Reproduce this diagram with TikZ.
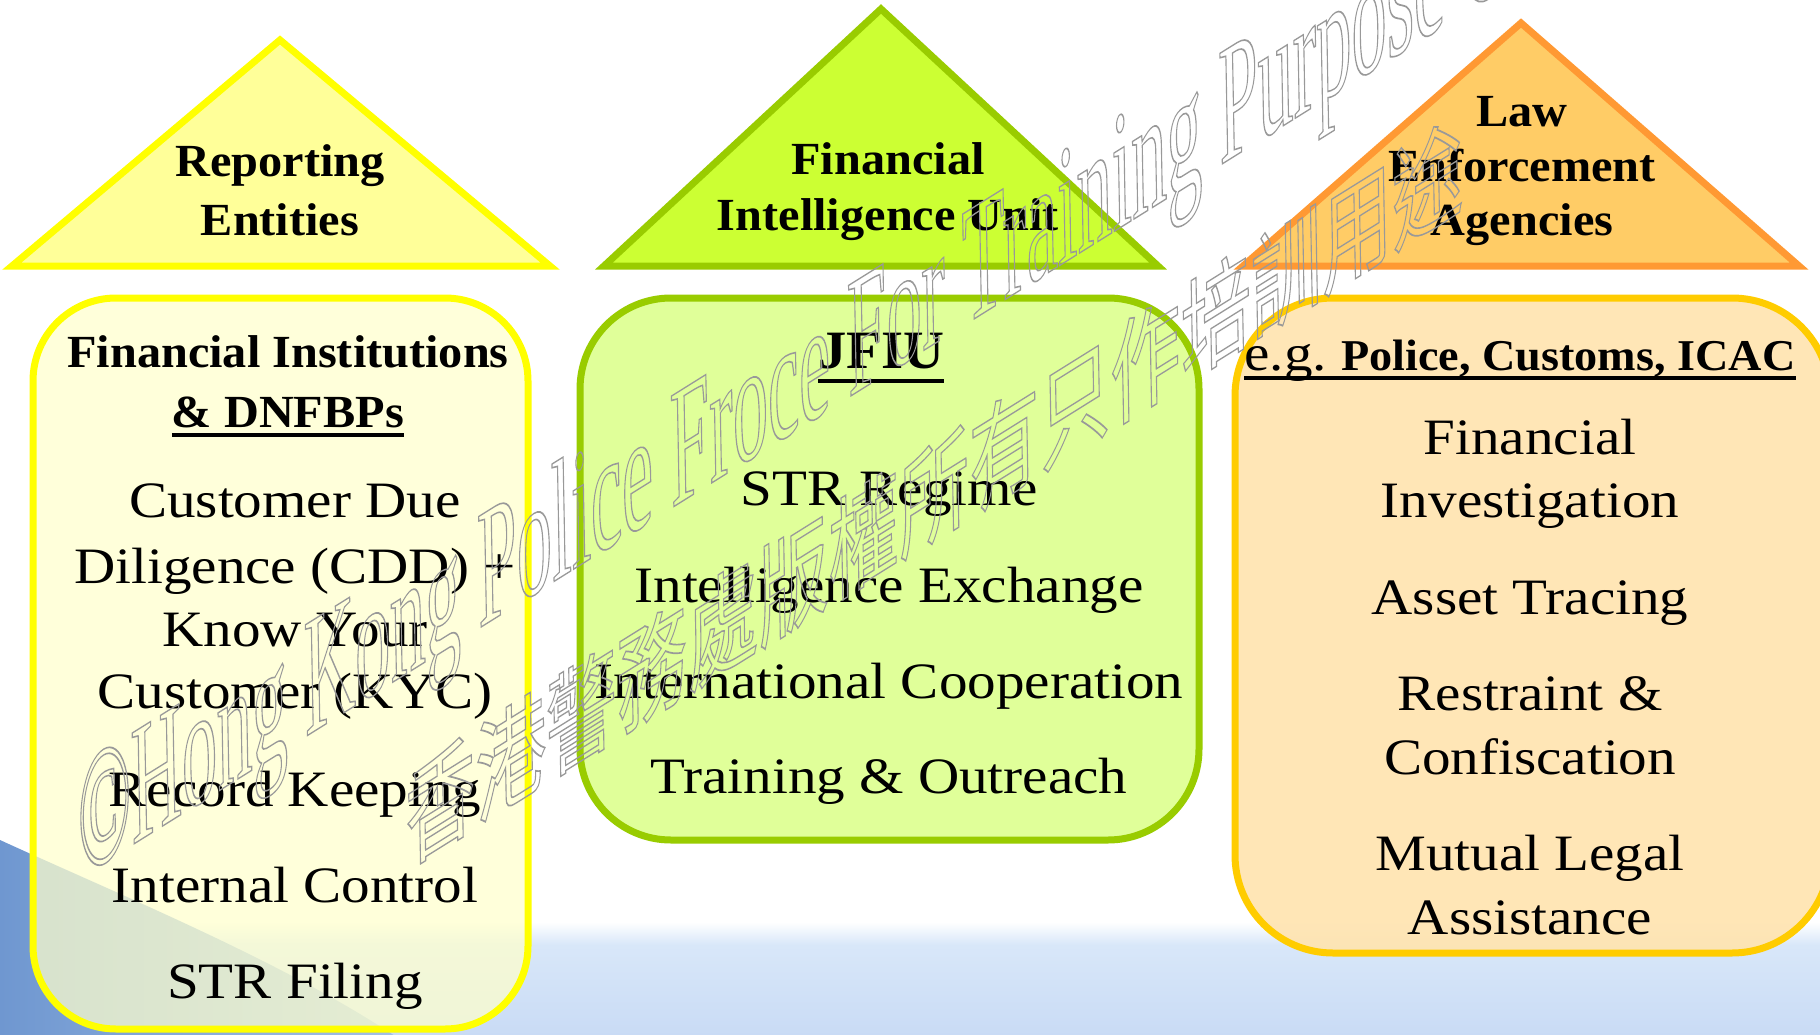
\documentclass[tikz,border=0pt]{standalone}
\usepackage{fontspec}
\setmainfont{Liberation Serif}[FakeStretch=1.12, BoldFeatures={FakeStretch=1.05}]
\newfontfamily\wmfont{Liberation Serif}[FakeStretch=0.57]
\newfontfamily\wmcjk{Noto Sans CJK TC}[FakeStretch=0.875]
\newcommand\WmOutlineOn{\special{pdf:literal direct 1 Tr 1.3 w 0.6 0.6 0.6 RG}}
\newcommand\WmOutlineOff{\special{pdf:literal direct 0 Tr}}
\definecolor{triYfill}{HTML}{FFFF99}
\definecolor{triYline}{HTML}{FFFF00}
\definecolor{triGfill}{HTML}{CCFF33}
\definecolor{triGline}{HTML}{99CC00}
\definecolor{triOfill}{HTML}{FFCC66}
\definecolor{triOline}{HTML}{FF9933}
\definecolor{boxYfill}{HTML}{FFFFCC}
\definecolor{boxGfill}{HTML}{E0FF99}
\definecolor{boxOfill}{HTML}{FFE4B0}
\definecolor{boxOline}{HTML}{FFCC00}
\definecolor{bandA}{HTML}{D8E7F9}
\definecolor{bandB}{HTML}{C9DBF5}
\definecolor{wedgeA}{HTML}{6F97D0}
\definecolor{wedgeB}{HTML}{A2BFE6}
\definecolor{wmgray}{HTML}{9A9A9A}
\tikzset{
  tri/.style={line width=7pt, line join=miter},
  rbox/.style={line width=7pt},
  hd/.style={font=\bfseries\fontsize{46}{55}\selectfont, inner sep=0pt, anchor=base},
  tx/.style={font=\fontsize{51}{61}\selectfont, inner sep=0pt, anchor=base},
  ul/.style={line width=3.5pt, black},
  wm/.style={inner sep=0pt, text=wmgray, anchor=west, rotate=32, xslant=0.6}
}
\begin{document}
\begin{tikzpicture}[x=1pt, y=-1pt]
\useasboundingbox (0,0) rectangle (1820,1035);
\clip (0,0) rectangle (1820,1035);
\fill[white] (0,0) rectangle (1820,1035);
% background band
\shade[top color=white, bottom color=bandA] (0,922) rectangle (1820,945);
\shade[top color=bandA, bottom color=bandB] (0,945) rectangle (1820,1036);
% bottom-left wedge
\shade[left color=wedgeA, right color=wedgeB]
  (0,840) .. controls (120,895) and (280,960) .. (395,1036) -- (0,1036) -- cycle;

% triangles
\draw[tri, draw=triYline, fill=triYfill] (280,40) -- (550,266) -- (12,266) -- cycle;
\draw[tri, draw=triGline, fill=triGfill] (881,9) -- (1158,266) -- (604,266) -- cycle;
\draw[tri, draw=triOline, fill=triOfill] (1521,23) -- (1799,266) -- (1243,266) -- cycle;

% rounded boxes
\draw[rbox, draw=triYline, fill=boxYfill, fill opacity=0.72, rounded corners=83pt] (33,298) rectangle (528,1029);
\draw[rbox, draw=triGline, fill=boxGfill, rounded corners=91pt] (580,298) rectangle (1199,840);
\draw[rbox, draw=boxOline, fill=boxOfill, fill opacity=0.92, rounded corners=98pt] (1235,298) rectangle (1830,953);

% triangle labels
\node[hd] (re1) at (280,177) {Reporting};
\node[hd] (re2) at (280,235) {Entities};
\node[hd] (fiu1) at (888,175) {Financial};
\node[hd] (fiu2) at (888,230) {Intelligence Unit};
\node[hd] (lea1) at (1522,127) {Law};
\node[hd] (lea2) at (1522,182) {Enforcement};
\node[hd] (lea3) at (1522,235) {Agencies};

% box 1
\node[hd] (b1h1) at (288,367) {Financial Institutions};
\node[hd] (b1h2) at (288,427) {\& DNFBPs};
\draw[ul] ([yshift=-8pt]b1h2.base west) -- ([yshift=-8pt]b1h2.base east);
\node[tx] (b1a) at (295,517) {Customer Due};
\node[tx] (b1b) at (295,583) {Diligence (CDD) +};
\node[tx] (b1c) at (295,646) {Know Your};
\node[tx] (b1d) at (295,708) {Customer (KYC)};
\node[tx] (b1e) at (295,806) {Record Keeping};
\node[tx] (b1f) at (295,902) {Internal Control};
\node[tx] (b1g) at (295,998) {STR Filing};

% box 2
\node[hd, font=\bfseries\fontsize{54}{60}\selectfont] (b2h) at (881,368) {JFIU};
\draw[ul] ([yshift=-13pt]b2h.base west) -- ([yshift=-13pt]b2h.base east);
\node[tx] (b2a) at (889,505) {STR Regime};
\node[tx] (b2b) at (889,602) {Intelligence Exchange};
\node[tx] (b2c) at (889,698) {International Cooperation};
\node[tx] (b2d) at (889,793) {Training \& Outreach};

% box 3
\node[tx] (b3h) at (1520,370) {e.g.\ {\bfseries\fontsize{44}{55}\selectfont Police, Customs, ICAC}};
\draw[ul] ([yshift=-8pt]b3h.base west) -- ([yshift=-8pt]b3h.base east);
\node[tx] (b3a) at (1530,454) {Financial};
\node[tx] (b3b) at (1530,517) {Investigation};
\node[tx] (b3c) at (1530,614) {Asset Tracing};
\node[tx] (b3d) at (1530,710) {Restraint \&};
\node[tx] (b3e) at (1530,774) {Confiscation};
\node[tx] (b3f) at (1530,870) {Mutual Legal};
\node[tx] (b3g) at (1530,934) {Assistance};

% watermark
\node[wm] (wmen) at (78,838) {\wmfont\fontsize{145}{145}\selectfont\WmOutlineOn ©Hong Kong Police Froce For Training Purpose Only\WmOutlineOff};
\node[wm] (wmzh) at (405,822) {\wmcjk\fontsize{95}{95}\selectfont\WmOutlineOn 香港警務處版權所有只作培訓用途\WmOutlineOff};
\end{tikzpicture}
\end{document}
